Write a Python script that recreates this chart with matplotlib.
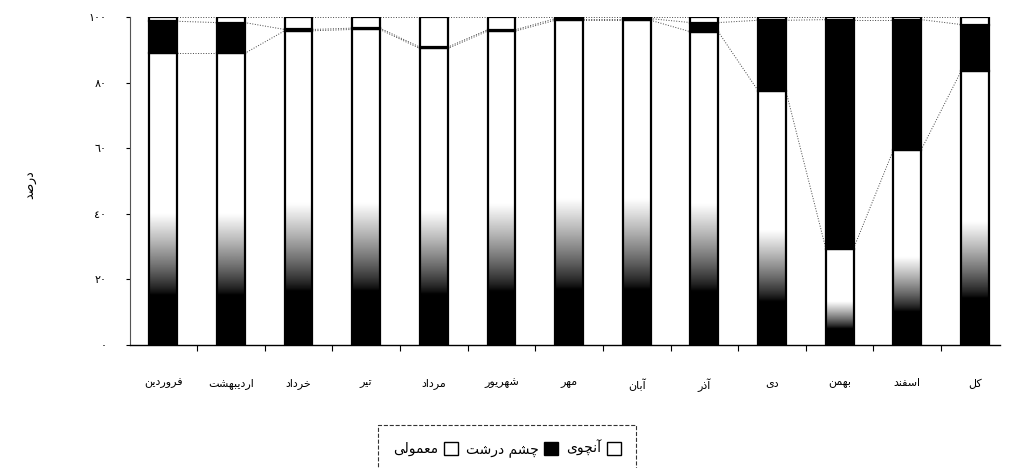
import unicodedata
import numpy as np
import matplotlib
matplotlib.use('Agg')
import matplotlib.pyplot as plt
from matplotlib.patches import Patch

plt.rcParams['font.family'] = ['DejaVu Sans']

# data (percent)
months = ['فروردین', 'اردیبهشت', 'خرداد', 'تیر', 'مرداد', 'شهریور', 'مهر',
          'آبان', 'آذر', 'دی', 'بهمن', 'اسفند', 'کل']
normal = [88.9, 88.9, 95.8, 96.2, 90.4, 95.7, 99.0, 99.0, 95.5, 77.5, 29.4, 59.5, 83.5]
big_eye = [9.8, 9.4, 0.4, 0.4, 0.4, 0.4, 0.5, 0.5, 2.8, 21.5, 69.8, 39.7, 14.2]
anchovy = [100 - a - b for a, b in zip(normal, big_eye)]
series_names = ['معمولی', 'چشم درشت', 'آنچوی']
yticks = [0, 20, 40, 60, 80, 100]
ytick_labels = ['٠', '٢٠', '٤٠', '٦٠', '٨٠', '١٠٠']

NON_JOIN = set('اآدذرزژو')


def shape(word):
    # minimal arabic shaping + visual reordering (matplotlib has no bidi)
    def is_letter(c):
        return '\u0621' <= c <= '\u06D3'
    out = []
    for i, c in enumerate(word):
        if not is_letter(c):
            out.append(c)
            continue
        p = word[i - 1] if i > 0 else ''
        n = word[i + 1] if i + 1 < len(word) else ''
        jp = bool(p) and is_letter(p) and p not in NON_JOIN
        jn = bool(n) and is_letter(n) and c not in NON_JOIN
        form = ['ISOLATED', 'INITIAL', 'FINAL', 'MEDIAL'][int(jn) + 2 * int(jp)]
        try:
            out.append(unicodedata.lookup(unicodedata.name(c) + ' ' + form + ' FORM'))
        except KeyError:
            out.append(c)
    return ''.join(reversed(out))


fig = plt.figure(figsize=(10.1, 4.68), dpi=100)
ax = fig.add_axes([130 / 1010, 1 - 345 / 468, 870 / 1010, 328 / 468])

x = np.arange(len(months))
w = 0.41
normal = np.array(normal)
big_eye = np.array(big_eye)
anchovy = np.array(anchovy)

# gradient fill for the bottom series (black at bottom -> white)
t = np.linspace(0, 1, 200)
g = np.clip((t - 0.17) / (0.45 - 0.17), 0, 1).reshape(-1, 1) ** 0.8
for xi, h in zip(x, normal):
    ax.imshow(g, extent=(xi - w / 2, xi + w / 2, 0, h), origin='lower', cmap='gray',
              vmin=0, vmax=1, aspect='auto', interpolation='bilinear', zorder=2)

ax.bar(x, normal, w, facecolor='none', edgecolor='black', linewidth=1.6, zorder=3)
ax.bar(x, big_eye, w, bottom=normal, color='black', edgecolor='black', linewidth=1.6, zorder=3)
ax.bar(x, anchovy, w, bottom=normal + big_eye, color='white', edgecolor='black',
       linewidth=1.6, zorder=3)

# series lines
for level in [normal, normal + big_eye, normal + big_eye + anchovy]:
    for i in range(len(x) - 1):
        ax.plot([x[i] + w / 2, x[i + 1] - w / 2], [level[i], level[i + 1]],
                color='#444444', lw=0.7, ls=':', zorder=1)

ax.set_xlim(-0.49, 12.37)
ax.set_ylim(0, 100)
ax.set_yticks(yticks)
ax.set_yticklabels(ytick_labels, fontsize=8)
ax.set_xticks(x)
ax.set_xticklabels([shape(m) for m in months], fontsize=8)
ax.set_xticks(x[:-1] + 0.5, minor=True)
ax.tick_params(axis='x', which='major', length=0, pad=24)
ax.tick_params(axis='x', which='minor', length=4, width=0.8)
ax.tick_params(axis='y', length=3, width=0.8, pad=14)
for s in ['top', 'right']:
    ax.spines[s].set_visible(False)
ax.spines['left'].set_color('#555555')
ax.spines['bottom'].set_linewidth(1.0)

fig.text(30 / 1010, 1 - 185 / 468, shape('درصد'), rotation=90, fontsize=9,
         ha='center', va='center')

handles = [Patch(facecolor='white', edgecolor='black'),
           Patch(facecolor='black', edgecolor='black'),
           Patch(facecolor='white', edgecolor='black')]
leg = fig.legend(handles, [shape(s) for s in series_names], ncol=3, markerfirst=False,
                 loc='upper center', bbox_to_anchor=(507 / 1010, 1 - 418 / 468),
                 fontsize=10, fancybox=False, frameon=True, borderpad=1.1,
                 handlelength=1.0, handleheight=1.0, columnspacing=0.6, handletextpad=0.4)
leg.get_frame().set_edgecolor('black')
leg.get_frame().set_linestyle('--')
leg.get_frame().set_linewidth(0.8)

fig.savefig('out.png', dpi=100)
